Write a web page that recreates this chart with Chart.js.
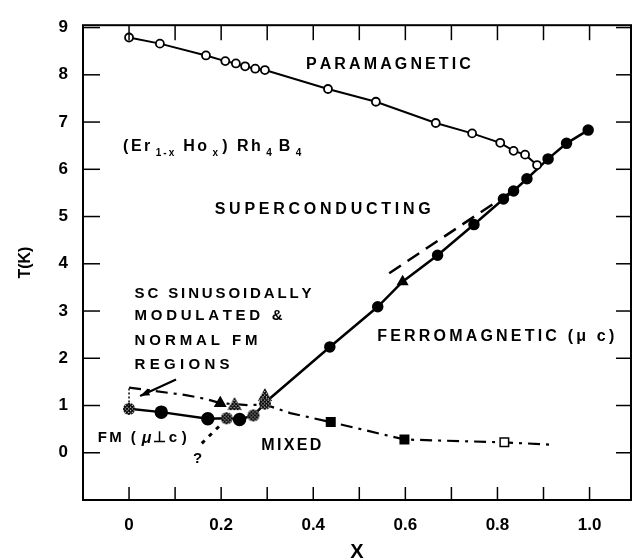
<!DOCTYPE html>
<html>
<head>
<meta charset="utf-8">
<script src="https://cdn.jsdelivr.net/npm/chart.js@4.4.1/dist/chart.umd.min.js"></script>
<style>
  html, body { margin: 0; padding: 0; background: #fff; }
  canvas { display: block; }
</style>
</head>
<body>
<canvas id="grafico" width="639" height="560"></canvas>
<script>
// frontera paramagnetico / superconductor (circulos abiertos)
const paraX = [0, 0.067, 0.167, 0.209, 0.232, 0.252, 0.274, 0.295, 0.432, 0.536, 0.666, 0.745, 0.806, 0.835, 0.86, 0.886]
const paraY = [8.79, 8.66, 8.41, 8.29, 8.24, 8.18, 8.13, 8.10, 7.70, 7.43, 6.98, 6.76, 6.56, 6.39, 6.31, 6.09]
// ferromagnetico (mu || c), circulos llenos
const ferroX = [0.30, 0.436, 0.54, 0.594, 0.67, 0.749, 0.813, 0.835, 0.864, 0.91, 0.95, 0.997]
const ferroY = [1.10, 2.24, 3.09, 3.62, 4.18, 4.83, 5.37, 5.54, 5.80, 6.22, 6.55, 6.83]
const ferroMarca = ['none', 'circle', 'circle', 'triangle', 'circle', 'circle', 'circle', 'circle', 'circle', 'circle', 'circle', 'circle']
// linea discontinua paralela
const trazoX = [0.565, 0.845]
const trazoY = [3.80, 5.62]
// FM (mu perp c)
const bajoX = [0, 0.07, 0.171, 0.212, 0.24, 0.27, 0.295]
const bajoY = [0.93, 0.86, 0.72, 0.73, 0.705, 0.79, 1.04]
const bajoMarca = ['rayado', 'circle', 'circle', 'rayado', 'circle', 'rayado', 'rayado']
// frontera SC modulada / mixta
const fronteraX = [0, 0.123, 0.166, 0.198, 0.229, 0.256, 0.295, 0.35, 0.438, 0.598, 0.815, 0.92]
const fronteraY = [1.38, 1.22, 1.14, 1.05, 1.03, 1.01, 1.02, 0.84, 0.65, 0.28, 0.22, 0.17]
const fronteraMarca = ['none', 'none', 'none', 'triangle', 'triangleOpen', 'none', 'none', 'none', 'rect', 'rect', 'rectOpen', 'none']
// linea punteada "?"
const dudaX = [0.158, 0.205]
const dudaY = [0.20, 0.65]
// triangulo rayado sobre x = 0.3
const extraX = [0.295]
const extraY = [1.22]

const ticksX = [0, 0.2, 0.4, 0.6, 0.8, 1.0]
const ticksMenoresX = [0, 0.1, 0.2, 0.3, 0.4, 0.5, 0.6, 0.7, 0.8, 0.9, 1.0]
const ticksY = [0, 1, 2, 3, 4, 5, 6, 7, 8, 9]

const fuente = "'Liberation Sans', Arial, sans-serif"

function puntos(xs, ys) {
    return xs.map((x, i) => ({ x: x, y: ys[i] }))
}

// circulo rayado como pointStyle
function marcaRayada(r, forma) {
    let c = document.createElement('canvas')
    let s = r * 2 + 4
    c.width = s
    c.height = s
    let g = c.getContext('2d')
    g.beginPath()
    if (forma == 'triangle') {
        g.moveTo(s / 2, 1); g.lineTo(s - 1, s - 2); g.lineTo(1, s - 2); g.closePath()
    } else {
        g.arc(s / 2, s / 2, r, 0, Math.PI * 2)
    }
    g.fillStyle = '#fff'
    g.fill()
    g.save()
    g.clip()
    g.strokeStyle = '#000'
    g.lineWidth = 1.3
    for (let k = -s; k < s * 2; k += 3.5) {
        g.beginPath(); g.moveTo(k, 0); g.lineTo(k + s, s); g.stroke()
        g.beginPath(); g.moveTo(k, s); g.lineTo(k + s, 0); g.stroke()
    }
    g.restore()
    g.lineWidth = 1.6
    g.stroke()
    return c
}
const rayado = marcaRayada(6, 'circle')
const rayadoTri = marcaRayada(6, 'triangle')

function estilo(m) {
    if (m == 'rayado') return rayado
    if (m == 'triangleOpen') return rayadoTri
    if (m == 'rectOpen') return 'rect'
    if (m == 'none') return 'circle'
    return m
}
function relleno(m) {
    return (m == 'rectOpen' || m == 'triangleOpen') ? '#fff' : '#000'
}
function radio(m, r) {
    if (m == 'none') return 0
    if (m == 'rect' || m == 'rectOpen') return 6
    return r
}

// texto con espaciado para ocupar un ancho dado
function textoAncho(ctx, txt, x, y, ancho) {
    let w = 0
    for (let c of txt) w += ctx.measureText(c).width
    let sp = txt.length > 1 ? (ancho - w) / (txt.length - 1) : 0
    for (let c of txt) {
        ctx.fillText(c, x, y)
        x += ctx.measureText(c).width + sp
    }
}

const rotulos = [
    { t: 'PARAMAGNETIC', x: 0.384, y: 8.22, w: 165, f: 16 },
    { t: 'SUPERCONDUCTING', x: 0.186, y: 5.14, w: 216, f: 16 },
    { t: 'SC SINUSOIDALLY', x: 0.012, y: 3.37, w: 177, f: 15 },
    { t: 'MODULATED &', x: 0.012, y: 2.89, w: 148, f: 15 },
    { t: 'NORMAL FM', x: 0.012, y: 2.37, w: 123, f: 15 },
    { t: 'REGIONS', x: 0.012, y: 1.85, w: 95, f: 15 },
    { t: 'MIXED', x: 0.287, y: 0.146, w: 60, f: 16 },
    { t: 'FERROMAGNETIC (\u03bc c)', x: 0.539, y: 2.45, w: 237, f: 16 }
]

const decoraciones = {
    id: 'decoraciones',
    afterDatasetsDraw(chart) {
        const ctx = chart.ctx
        const a = chart.chartArea
        const sx = chart.scales.x
        const sy = chart.scales.y
        ctx.save()
        ctx.strokeStyle = '#000'
        ctx.fillStyle = '#000'
        // marco
        ctx.lineWidth = 2
        ctx.strokeRect(a.left, a.top, a.right - a.left, a.bottom - a.top)
        // ticks hacia adentro
        ctx.lineWidth = 1.5
        ticksMenoresX.forEach(v => {
            let px = sx.getPixelForValue(v)
            ctx.beginPath(); ctx.moveTo(px, a.bottom); ctx.lineTo(px, a.bottom - 13); ctx.stroke()
            ctx.beginPath(); ctx.moveTo(px, a.top); ctx.lineTo(px, a.top + 15); ctx.stroke()
        })
        ticksY.forEach(v => {
            let py = sy.getPixelForValue(v)
            ctx.beginPath(); ctx.moveTo(a.left, py); ctx.lineTo(a.left + 17, py); ctx.stroke()
            ctx.beginPath(); ctx.moveTo(a.right, py); ctx.lineTo(a.right - 15, py); ctx.stroke()
        })
        // rotulos
        ctx.textBaseline = 'middle'
        ctx.textAlign = 'left'
        rotulos.forEach(r => {
            ctx.font = 'bold ' + r.f + 'px ' + fuente
            textoAncho(ctx, r.t, sx.getPixelForValue(r.x), sy.getPixelForValue(r.y), r.w)
        })
        // FM (mu perp c)
        ctx.font = 'bold 15px ' + fuente
        let fx = sx.getPixelForValue(-0.068)
        let fy = sy.getPixelForValue(0.31)
        textoAncho(ctx, 'FM (', fx, fy, 38)
        ctx.font = 'italic bold 16px ' + fuente
        ctx.fillText('\u03bc', fx + 44, fy)
        ctx.font = 'bold 15px ' + fuente
        ctx.fillText('\u22a5', fx + 55, fy)
        textoAncho(ctx, 'c)', fx + 71, fy, 18)
        // ?
        ctx.textAlign = 'center'
        ctx.fillText('?', sx.getPixelForValue(0.149), sy.getPixelForValue(-0.12))
        // formula (Er1-x Hox) Rh4 B4
        ctx.textAlign = 'left'
        let ex = sx.getPixelForValue(-0.013)
        let ey = sy.getPixelForValue(6.49)
        const partes = [['(Er', 0], ['1-x', 1], ['Ho', 0], ['x', 1], [') Rh', 0], ['4', 1], ['B', 0], ['4', 1]]
        const huecos = [3, 7, 3, 2, 3, 5, 3, 0]
        partes.forEach((p, i) => {
            ctx.font = p[1] ? 'bold 10px ' + fuente : 'bold 16px ' + fuente
            let w = 0
            for (let c of p[0]) w += ctx.measureText(c).width + (p[1] ? 2 : 2.5)
            textoAncho(ctx, p[0], ex, ey + (p[1] ? 7 : 0), w - (p[1] ? 2 : 2.5))
            ex += w + huecos[i]
        })
        // flecha desde REGIONS
        let x1 = sx.getPixelForValue(0.102), y1 = sy.getPixelForValue(1.55)
        let x2 = sx.getPixelForValue(0.024), y2 = sy.getPixelForValue(1.2)
        ctx.lineWidth = 2.2
        ctx.beginPath(); ctx.moveTo(x1, y1); ctx.lineTo(x2, y2); ctx.stroke()
        let ang = Math.atan2(y2 - y1, x2 - x1)
        ctx.beginPath()
        ctx.moveTo(x2, y2)
        ctx.lineTo(x2 - 10 * Math.cos(ang - 0.35), y2 - 10 * Math.sin(ang - 0.35))
        ctx.lineTo(x2 - 10 * Math.cos(ang + 0.35), y2 - 10 * Math.sin(ang + 0.35))
        ctx.closePath()
        ctx.fill()
        // corchete en x = 0
        let bx = sx.getPixelForValue(0)
        ctx.lineWidth = 1.5
        ctx.setLineDash([2, 2])
        ctx.beginPath(); ctx.moveTo(bx, sy.getPixelForValue(0.98)); ctx.lineTo(bx, sy.getPixelForValue(1.38)); ctx.stroke()
        ctx.setLineDash([])
        ctx.restore()
    }
}

const datos = {
    datasets: [
        {
            data: puntos(paraX, paraY),
            showLine: true,
            borderColor: '#000',
            borderWidth: 2,
            pointStyle: 'circle',
            pointRadius: 4,
            pointBorderWidth: 1.8,
            pointBackgroundColor: '#fff',
            pointBorderColor: '#000',
            order: 1
        },
        {
            data: puntos(ferroX, ferroY),
            showLine: true,
            borderColor: '#000',
            borderWidth: 2.5,
            pointStyle: ferroMarca.map(estilo),
            pointRadius: ferroMarca.map(m => radio(m, 4.5)),
            pointBackgroundColor: '#000',
            pointBorderColor: '#000',
            order: 2
        },
        {
            data: puntos(trazoX, trazoY),
            showLine: true,
            borderColor: '#000',
            borderWidth: 2.5,
            borderDash: [14, 8],
            pointRadius: 0,
            order: 3
        },
        {
            data: puntos(fronteraX, fronteraY),
            showLine: true,
            borderColor: '#000',
            borderWidth: 2.2,
            borderDash: [12, 6, 3, 6],
            pointStyle: fronteraMarca.map(estilo),
            pointRadius: fronteraMarca.map(m => radio(m, 6)),
            pointBackgroundColor: fronteraMarca.map(relleno),
            pointBorderColor: '#000',
            pointBorderWidth: 1.5,
            order: 4
        },
        {
            data: puntos(bajoX, bajoY),
            showLine: true,
            borderColor: '#000',
            borderWidth: 2.5,
            pointStyle: bajoMarca.map(estilo),
            pointRadius: bajoMarca.map(m => radio(m, 5.5)),
            pointBackgroundColor: '#000',
            pointBorderColor: '#000',
            order: 0
        },
        {
            data: puntos(dudaX, dudaY),
            showLine: true,
            borderColor: '#000',
            borderWidth: 3,
            borderDash: [4, 6],
            pointRadius: 0,
            order: 5
        },
        {
            data: puntos(extraX, extraY),
            showLine: false,
            pointStyle: rayadoTri,
            pointRadius: 6,
            order: 0
        }
    ]
}

const config = {
    type: 'scatter',
    data: datos,
    options: {
        responsive: false,
        animation: false,
        layout: { padding: { top: 17, right: 3, left: 0, bottom: 0 } },
        plugins: {
            legend: { display: false },
            tooltip: { enabled: false }
        },
        scales: {
            x: {
                type: 'linear',
                min: -0.1,
                max: 1.09,
                grid: { display: false, drawTicks: false },
                border: { display: false },
                afterFit: s => { s.height = 60 },
                afterBuildTicks: s => { s.ticks = ticksX.map(v => ({ value: v })) },
                ticks: {
                    autoSkip: false,
                    maxRotation: 0,
                    padding: 15,
                    color: '#000',
                    font: { family: fuente, size: 17, weight: 'bold' },
                    callback: v => v == 0 ? '0' : v.toFixed(1)
                },
                title: {
                    display: true,
                    text: 'X',
                    color: '#000',
                    padding: 0,
                    font: { family: fuente, size: 20, weight: 'bold', lineHeight: 0.8 }
                }
            },
            y: {
                type: 'linear',
                min: -1,
                max: 9.05,
                grid: { display: false, drawTicks: false },
                border: { display: false },
                afterFit: s => { s.width = 83 },
                afterBuildTicks: s => { s.ticks = ticksY.map(v => ({ value: v })) },
                ticks: {
                    autoSkip: false,
                    padding: 15,
                    color: '#000',
                    font: { family: fuente, size: 17, weight: 'bold' },
                    callback: v => String(v)
                },
                title: {
                    display: true,
                    text: 'T(K)',
                    color: '#000',
                    padding: { top: 18, bottom: 0 },
                    font: { family: fuente, size: 16, weight: 'bold', lineHeight: 1 }
                }
            }
        }
    },
    plugins: [decoraciones]
}

let grafico = new Chart(document.getElementById('grafico'), config)
</script>
</body>
</html>
